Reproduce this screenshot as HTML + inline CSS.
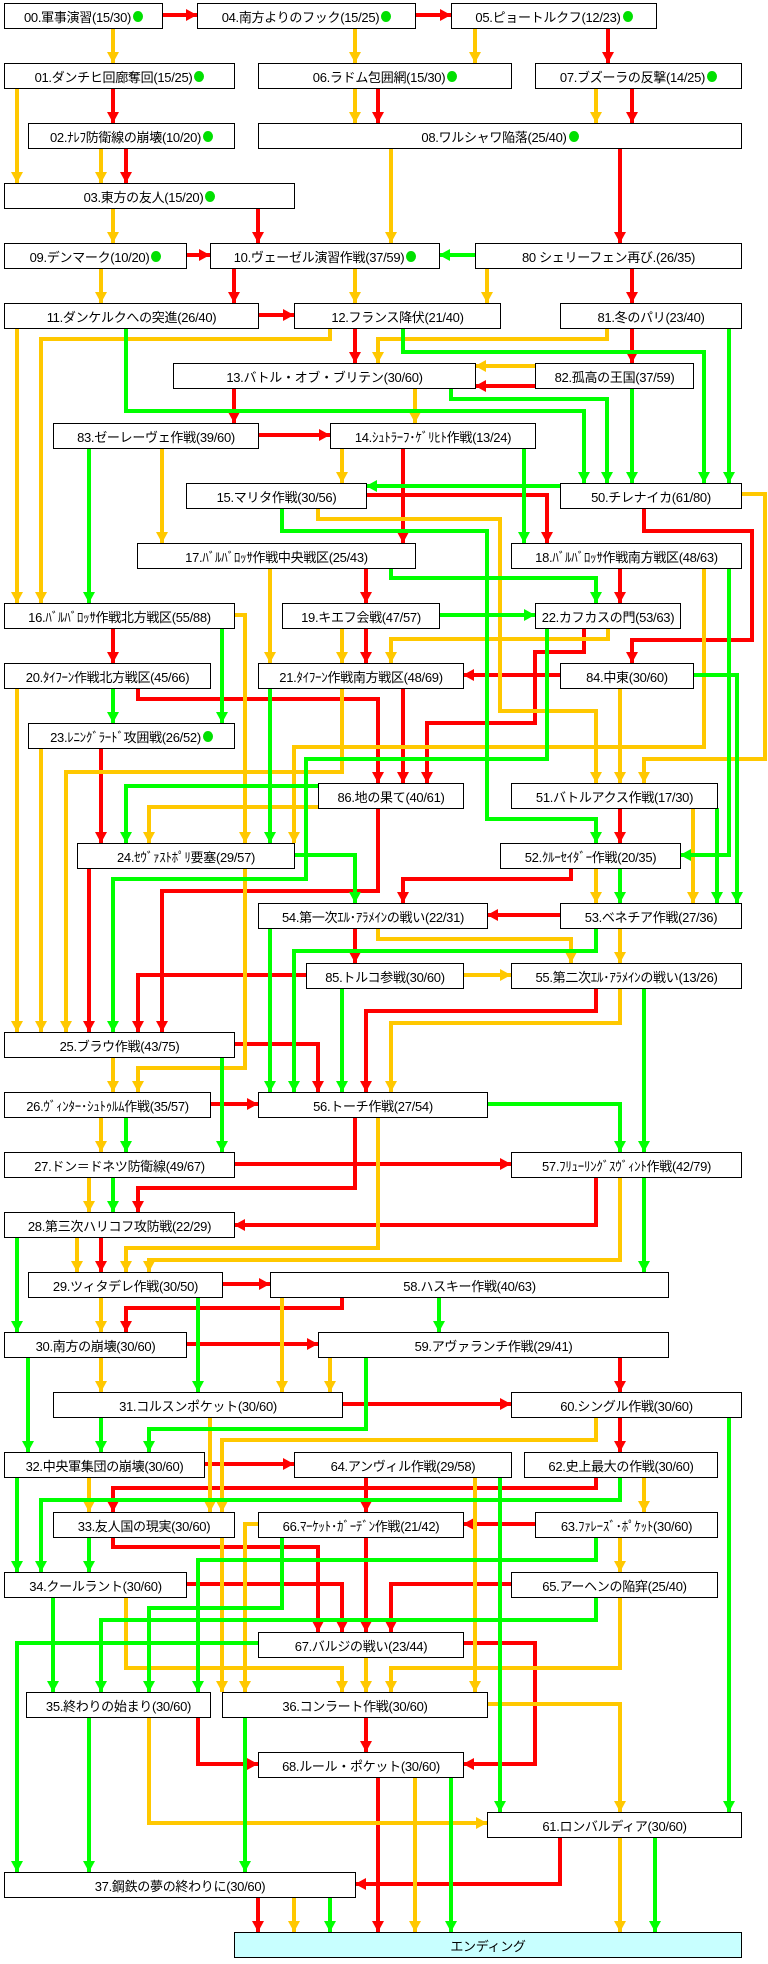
<!DOCTYPE html>
<html><head><meta charset="utf-8"><style>
html,body{margin:0;padding:0;background:#fff;}
#w{position:relative;width:768px;height:1964px;overflow:hidden;background:#fff;}
svg{position:absolute;left:0;top:0;}
.b{position:absolute;height:24px;border:1px solid #000;background:#fff;box-sizing:content-box;display:flex;align-items:center;justify-content:center;font-family:"Liberation Sans","Noto Sans CJK JP",sans-serif;font-size:13px;color:#000;white-space:nowrap;letter-spacing:-0.3px;}
.d{display:inline-block;width:10px;height:11px;border-radius:50%;background:#00e000;margin-left:2px;}
.e{background:#c8ffff;}
</style></head><body><div id="w">
<svg width="768" height="1964" viewBox="0 0 768 1964" fill="none" stroke-width="4" stroke-linejoin="miter">
<defs>
<marker id="r" markerUnits="userSpaceOnUse" markerWidth="12" markerHeight="12" refX="11" refY="6" orient="auto"><path d="M0,0L11,6L0,12z" fill="#ff0000"/></marker>
<marker id="o" markerUnits="userSpaceOnUse" markerWidth="12" markerHeight="12" refX="11" refY="6" orient="auto"><path d="M0,0L11,6L0,12z" fill="#ffc800"/></marker>
<marker id="g" markerUnits="userSpaceOnUse" markerWidth="12" markerHeight="12" refX="11" refY="6" orient="auto"><path d="M0,0L11,6L0,12z" fill="#00ff00"/></marker>
</defs>
<g stroke="#ff0000" marker-end="url(#r)">
<polyline points="161,15 197,15"/><polyline points="415,15 451,15"/><polyline points="608,28 608,63"/>
<polyline points="113,88 113,123"/><polyline points="378,88 378,123"/><polyline points="632,88 632,123"/>
<polyline points="126,148 126,183"/><polyline points="258,208 258,243"/><polyline points="620,148 620,243"/>
<polyline points="186,255 210,255"/><polyline points="234,268 234,303"/><polyline points="632,268 632,303"/>
<polyline points="258,315 294,315"/><polyline points="355,328 355,363"/><polyline points="632,328 632,363"/>
<polyline points="535,386 475,386"/><polyline points="234,388 234,423"/><polyline points="258,435 330,435"/>
<polyline points="403,448 403,543"/><polyline points="366,495 547,495 547,543"/>
<polyline points="644,508 644,531 752,531 752,640 632,640 632,663"/>
<polyline points="366,568 366,603"/><polyline points="620,568 620,603"/><polyline points="113,628 113,663"/>
<polyline points="366,628 366,663"/><polyline points="584,628 584,652 535,652 535,723 427,723 427,783"/>
<polyline points="560,675 463,675"/><polyline points="138,688 138,699 378,699 378,783"/>
<polyline points="403,688 403,783"/><polyline points="101,748 101,843"/>
<polyline points="378,808 378,891 162,891 162,1032"/><polyline points="620,808 620,843"/>
<polyline points="89,868 89,1032"/><polyline points="571,868 571,879 403,879 403,903"/>
<polyline points="560,915 487,915"/><polyline points="355,928 355,963"/>
<polyline points="306,975 138,975 138,1032"/><polyline points="596,988 596,1011 366,1011 366,1092"/>
<polyline points="234,1044 318,1044 318,1092"/><polyline points="210,1104 258,1104"/>
<polyline points="355,1117 355,1188 138,1188 138,1212"/><polyline points="234,1164 511,1164"/>
<polyline points="596,1177 596,1225 234,1225"/><polyline points="101,1237 101,1272"/>
<polyline points="222,1284 270,1284"/><polyline points="342,1297 342,1308 126,1308 126,1332"/>
<polyline points="186,1344 318,1344"/><polyline points="620,1357 620,1392"/><polyline points="342,1404 511,1404"/>
<polyline points="620,1417 620,1452"/><polyline points="204,1464 294,1464"/><polyline points="366,1477 366,1512"/>
<polyline points="596,1477 596,1488 113,1488 113,1512"/><polyline points="535,1524 463,1524"/>
<polyline points="113,1537 113,1547 318,1547 318,1632"/><polyline points="366,1537 366,1632"/>
<polyline points="186,1584 342,1584 342,1632"/><polyline points="511,1584 391,1584 391,1632"/>
<polyline points="463,1643 535,1643 535,1764 463,1764"/><polyline points="198,1717 198,1764 258,1764"/>
<polyline points="366,1717 366,1752"/><polyline points="378,1777 378,1932"/>
<polyline points="560,1837 560,1884 355,1884"/><polyline points="258,1897 258,1932"/>
</g>
<g stroke="#ffc800" marker-end="url(#o)">
<polyline points="113,28 113,63"/><polyline points="355,28 355,63"/><polyline points="475,28 475,63"/>
<polyline points="17,88 17,183"/><polyline points="355,88 355,123"/><polyline points="596,88 596,123"/>
<polyline points="101,148 101,183"/><polyline points="113,208 113,243"/><polyline points="391,148 391,243"/>
<polyline points="101,268 101,303"/><polyline points="355,268 355,303"/><polyline points="487,268 487,303"/>
<polyline points="17,328 17,603"/><polyline points="330,328 330,339 41,339 41,603"/>
<polyline points="607,328 607,339 378,339 378,363"/><polyline points="535,366 475,366"/>
<polyline points="415,388 415,423"/><polyline points="162,448 162,543"/><polyline points="342,448 342,483"/>
<polyline points="318,508 318,519 500,519 500,711 596,711 596,783"/>
<polyline points="741,494 765,494 765,759 644,759 644,783"/>
<polyline points="270,568 270,663"/><polyline points="234,615 245,615 245,843"/>
<polyline points="704,568 704,747 294,747 294,843"/><polyline points="342,628 342,663"/>
<polyline points="608,628 608,639 391,639 391,663"/><polyline points="620,688 620,783"/>
<polyline points="17,688 17,1032"/><polyline points="342,688 342,772 66,772 66,1032"/>
<polyline points="41,748 41,1032"/><polyline points="318,807 149,807 149,843"/>
<polyline points="693,808 693,903"/><polyline points="245,868 245,1068 138,1068 138,1092"/>
<polyline points="596,868 596,903"/><polyline points="378,928 378,939 571,939 571,963"/>
<polyline points="620,928 620,963"/><polyline points="463,975 511,975"/>
<polyline points="620,988 620,1023 391,1023 391,1092"/><polyline points="113,1057 113,1092"/>
<polyline points="101,1117 101,1152"/><polyline points="378,1117 378,1248 126,1248 126,1272"/>
<polyline points="89,1177 89,1212"/><polyline points="620,1177 620,1260 149,1260 149,1272"/>
<polyline points="77,1237 77,1272"/><polyline points="101,1297 101,1332"/><polyline points="282,1297 282,1392"/>
<polyline points="101,1357 101,1392"/><polyline points="330,1357 330,1392"/><polyline points="210,1417 210,1512"/>
<polyline points="596,1417 596,1440 222,1440 222,1512"/><polyline points="89,1477 89,1512"/>
<polyline points="475,1477 475,1692"/><polyline points="644,1477 644,1512"/>
<polyline points="222,1537 222,1692"/><polyline points="258,1524 245,1524 245,1692"/>
<polyline points="620,1537 620,1572"/><polyline points="126,1597 126,1668 342,1668 342,1692"/>
<polyline points="620,1597 620,1668 391,1668 391,1692"/><polyline points="366,1657 366,1692"/>
<polyline points="149,1717 149,1823 487,1823"/><polyline points="487,1704 620,1704 620,1812"/>
<polyline points="415,1777 415,1932"/><polyline points="620,1837 620,1932"/><polyline points="294,1897 294,1932"/>
</g>
<g stroke="#00ff00" marker-end="url(#g)">
<polyline points="475,255 439,255"/><polyline points="126,328 126,411 584,411 584,483"/>
<polyline points="403,328 403,352 704,352 704,483"/><polyline points="729,328 729,483"/>
<polyline points="632,388 632,483"/><polyline points="451,388 451,399 607,399 607,483"/>
<polyline points="89,448 89,603"/><polyline points="524,448 524,543"/><polyline points="560,486 366,486"/>
<polyline points="282,508 282,531 487,531 487,819 596,819 596,843"/>
<polyline points="391,568 391,578 596,578 596,603"/><polyline points="729,568 729,855 680,855"/>
<polyline points="439,615 535,615"/><polyline points="222,628 222,723"/>
<polyline points="547,628 547,759 306,759 306,879 113,879 113,1032"/>
<polyline points="693,675 737,675 737,903"/><polyline points="113,688 113,723"/>
<polyline points="270,688 270,843"/><polyline points="318,786 126,786 126,843"/>
<polyline points="717,808 717,903"/><polyline points="294,855 355,855 355,903"/>
<polyline points="620,868 620,903"/><polyline points="270,928 270,1092"/>
<polyline points="596,928 596,951 294,951 294,1092"/><polyline points="342,988 342,1092"/>
<polyline points="644,988 644,1152"/><polyline points="222,1057 222,1152"/>
<polyline points="126,1117 126,1152"/><polyline points="487,1104 620,1104 620,1152"/>
<polyline points="113,1177 113,1212"/><polyline points="644,1177 644,1272"/>
<polyline points="17,1237 17,1332"/><polyline points="198,1297 198,1392"/><polyline points="439,1297 439,1332"/>
<polyline points="28,1357 28,1452"/><polyline points="366,1357 366,1429 149,1429 149,1452"/>
<polyline points="101,1417 101,1452"/><polyline points="729,1417 729,1812"/>
<polyline points="17,1477 17,1572"/><polyline points="500,1477 500,1812"/>
<polyline points="620,1477 620,1500 41,1500 41,1572"/><polyline points="89,1537 89,1572"/>
<polyline points="282,1537 282,1608 149,1608 149,1692"/><polyline points="596,1537 596,1560 198,1560 198,1692"/>
<polyline points="53,1597 53,1692"/><polyline points="596,1597 596,1620 101,1620 101,1692"/>
<polyline points="258,1643 17,1643 17,1872"/><polyline points="89,1717 89,1872"/>
<polyline points="245,1717 245,1872"/><polyline points="451,1777 451,1932"/>
<polyline points="655,1837 655,1932"/><polyline points="330,1897 330,1932"/>
</g>
</svg>
<div class="b" style="left:4px;top:3px;width:157px">00.軍事演習(15/30)<span class="d"></span></div>
<div class="b" style="left:197px;top:3px;width:217px">04.南方よりのフック(15/25)<span class="d"></span></div>
<div class="b" style="left:451px;top:3px;width:204px">05.ピョートルクフ(12/23)<span class="d"></span></div>
<div class="b" style="left:4px;top:63px;width:229px">01.ダンチヒ回廊奪回(15/25)<span class="d"></span></div>
<div class="b" style="left:258px;top:63px;width:252px">06.ラドム包囲網(15/30)<span class="d"></span></div>
<div class="b" style="left:535px;top:63px;width:205px">07.ブズーラの反撃(14/25)<span class="d"></span></div>
<div class="b" style="left:28px;top:123px;width:205px">02.ﾅﾚﾌ防衛線の崩壊(10/20)<span class="d"></span></div>
<div class="b" style="left:258px;top:123px;width:482px">08.ワルシャワ陥落(25/40)<span class="d"></span></div>
<div class="b" style="left:4px;top:183px;width:289px">03.東方の友人(15/20)<span class="d"></span></div>
<div class="b" style="left:4px;top:243px;width:181px">09.デンマーク(10/20)<span class="d"></span></div>
<div class="b" style="left:210px;top:243px;width:228px">10.ヴェーゼル演習作戦(37/59)<span class="d"></span></div>
<div class="b" style="left:475px;top:243px;width:265px">80 シェリーフェン再び.(26/35)</div>
<div class="b" style="left:4px;top:303px;width:253px">11.ダンケルクへの突進(26/40)</div>
<div class="b" style="left:294px;top:303px;width:205px">12.フランス降伏(21/40)</div>
<div class="b" style="left:560px;top:303px;width:180px">81.冬のパリ(23/40)</div>
<div class="b" style="left:173px;top:363px;width:301px">13.バトル・オブ・ブリテン(30/60)</div>
<div class="b" style="left:535px;top:363px;width:157px">82.孤高の王国(37/59)</div>
<div class="b" style="left:53px;top:423px;width:204px">83.ゼーレーヴェ作戦(39/60)</div>
<div class="b" style="left:330px;top:423px;width:204px">14.ｼｭﾄﾗｰﾌ･ｹﾞﾘﾋﾄ作戦(13/24)</div>
<div class="b" style="left:186px;top:483px;width:179px">15.マリタ作戦(30/56)</div>
<div class="b" style="left:560px;top:483px;width:180px">50.チレナイカ(61/80)</div>
<div class="b" style="left:137px;top:543px;width:277px">17.ﾊﾞﾙﾊﾞﾛｯｻ作戦中央戦区(25/43)</div>
<div class="b" style="left:511px;top:543px;width:229px">18.ﾊﾞﾙﾊﾞﾛｯｻ作戦南方戦区(48/63)</div>
<div class="b" style="left:4px;top:603px;width:229px">16.ﾊﾞﾙﾊﾞﾛｯｻ作戦北方戦区(55/88)</div>
<div class="b" style="left:282px;top:603px;width:156px">19.キエフ会戦(47/57)</div>
<div class="b" style="left:535px;top:603px;width:144px">22.カフカスの門(53/63)</div>
<div class="b" style="left:4px;top:663px;width:205px">20.ﾀｲﾌｰﾝ作戦北方戦区(45/66)</div>
<div class="b" style="left:258px;top:663px;width:204px">21.ﾀｲﾌｰﾝ作戦南方戦区(48/69)</div>
<div class="b" style="left:560px;top:663px;width:132px">84.中東(30/60)</div>
<div class="b" style="left:28px;top:723px;width:205px">23.ﾚﾆﾝｸﾞﾗｰﾄﾞ攻囲戦(26/52)<span class="d"></span></div>
<div class="b" style="left:318px;top:783px;width:144px">86.地の果て(40/61)</div>
<div class="b" style="left:511px;top:783px;width:205px">51.バトルアクス作戦(17/30)</div>
<div class="b" style="left:77px;top:843px;width:216px">24.ｾｳﾞｧｽﾄﾎﾟﾘ要塞(29/57)</div>
<div class="b" style="left:500px;top:843px;width:179px">52.ｸﾙｰｾｲﾀﾞｰ作戦(20/35)</div>
<div class="b" style="left:258px;top:903px;width:228px">54.第一次ｴﾙ･ｱﾗﾒｲﾝの戦い(22/31)</div>
<div class="b" style="left:560px;top:903px;width:180px">53.ベネチア作戦(27/36)</div>
<div class="b" style="left:306px;top:963px;width:156px">85.トルコ参戦(30/60)</div>
<div class="b" style="left:511px;top:963px;width:229px">55.第二次ｴﾙ･ｱﾗﾒｲﾝの戦い(13/26)</div>
<div class="b" style="left:4px;top:1032px;width:229px">25.ブラウ作戦(43/75)</div>
<div class="b" style="left:4px;top:1092px;width:205px">26.ｳﾞｨﾝﾀｰ･ｼｭﾄｩﾙﾑ作戦(35/57)</div>
<div class="b" style="left:258px;top:1092px;width:228px">56.トーチ作戦(27/54)</div>
<div class="b" style="left:4px;top:1152px;width:229px">27.ドン＝ドネツ防衛線(49/67)</div>
<div class="b" style="left:511px;top:1152px;width:229px">57.ﾌﾘｭｰﾘﾝｸﾞｽｳﾞｨﾝﾄ作戦(42/79)</div>
<div class="b" style="left:4px;top:1212px;width:229px">28.第三次ハリコフ攻防戦(22/29)</div>
<div class="b" style="left:28px;top:1272px;width:193px">29.ツィタデレ作戦(30/50)</div>
<div class="b" style="left:270px;top:1272px;width:397px">58.ハスキー作戦(40/63)</div>
<div class="b" style="left:4px;top:1332px;width:181px">30.南方の崩壊(30/60)</div>
<div class="b" style="left:318px;top:1332px;width:349px">59.アヴァランチ作戦(29/41)</div>
<div class="b" style="left:53px;top:1392px;width:288px">31.コルスンポケット(30/60)</div>
<div class="b" style="left:511px;top:1392px;width:229px">60.シングル作戦(30/60)</div>
<div class="b" style="left:4px;top:1452px;width:199px">32.中央軍集団の崩壊(30/60)</div>
<div class="b" style="left:294px;top:1452px;width:216px">64.アンヴィル作戦(29/58)</div>
<div class="b" style="left:524px;top:1452px;width:192px">62.史上最大の作戦(30/60)</div>
<div class="b" style="left:53px;top:1512px;width:180px">33.友人国の現実(30/60)</div>
<div class="b" style="left:258px;top:1512px;width:204px">66.ﾏｰｹｯﾄ･ｶﾞｰﾃﾞﾝ作戦(21/42)</div>
<div class="b" style="left:535px;top:1512px;width:181px">63.ﾌｧﾚｰｽﾞ･ﾎﾟｹｯﾄ(30/60)</div>
<div class="b" style="left:4px;top:1572px;width:181px">34.クールラント(30/60)</div>
<div class="b" style="left:511px;top:1572px;width:205px">65.アーヘンの陥穽(25/40)</div>
<div class="b" style="left:258px;top:1632px;width:204px">67.バルジの戦い(23/44)</div>
<div class="b" style="left:26px;top:1692px;width:183px">35.終わりの始まり(30/60)</div>
<div class="b" style="left:222px;top:1692px;width:264px">36.コンラート作戦(30/60)</div>
<div class="b" style="left:258px;top:1752px;width:204px">68.ルール・ポケット(30/60)</div>
<div class="b" style="left:487px;top:1812px;width:253px">61.ロンバルディア(30/60)</div>
<div class="b" style="left:4px;top:1872px;width:350px">37.鋼鉄の夢の終わりに(30/60)</div>
<div class="b e" style="left:234px;top:1932px;width:506px">エンディング</div>
</div></body></html>
